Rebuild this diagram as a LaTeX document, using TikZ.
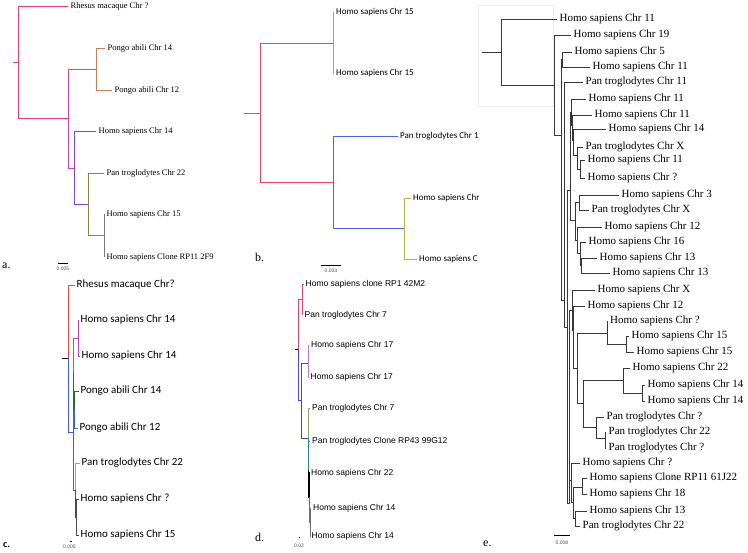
\documentclass[tikz,border=0pt]{standalone}
\usepackage{fontspec}
\setmainfont{Liberation Serif}
\newfontfamily\carlito{Carlito}
\newfontfamily\arialsans{Liberation Sans}
\usepackage{tikz}
\usetikzlibrary{calc}
\usepackage{xcolor}

\definecolor{apink}{RGB}{230,62,120}
\definecolor{amag}{RGB}{200,70,185}
\definecolor{aorg}{RGB}{205,125,90}
\definecolor{apur}{RGB}{135,70,205}
\definecolor{aoli}{RGB}{135,135,60}
\definecolor{agry}{RGB}{120,120,120}
\definecolor{bred}{RGB}{232,72,100}
\definecolor{bvio}{RGB}{222,112,222}
\definecolor{bblu}{RGB}{78,98,228}
\definecolor{bolv}{RGB}{190,178,70}
\definecolor{cred}{RGB}{238,74,74}
\definecolor{cblu}{RGB}{62,92,228}
\definecolor{cmag}{RGB}{180,70,200}
\definecolor{cgrn}{RGB}{30,110,55}
\definecolor{colv}{RGB}{165,165,125}
\definecolor{cdrk}{RGB}{75,75,75}
\definecolor{dred}{RGB}{222,70,112}
\definecolor{dblu}{RGB}{62,72,222}
\definecolor{dvio}{RGB}{188,122,210}
\definecolor{dolv}{RGB}{150,160,110}
\definecolor{dtea}{RGB}{40,140,140}
\definecolor{dgry}{RGB}{110,110,110}
\definecolor{ebk}{RGB}{55,55,55}

\newcommand{\sizeA}{\fontsize{8.5}{10}\selectfont}
\newcommand{\sizeB}{\carlito\fontsize{9}{11}\selectfont}
\newcommand{\sizeC}{\carlito\fontsize{11}{13}\selectfont}
\newcommand{\sizeD}{\arialsans\fontsize{8.5}{10}\selectfont}
\newcommand{\sizeE}{\fontsize{11}{13}\selectfont}
\newcommand{\sizeT}{\fontsize{12}{14}\selectfont}
\newcommand{\sizeS}{\arialsans\fontsize{5}{6}\selectfont}

\begin{document}
\begin{tikzpicture}[x=1pt,y=-1pt,
  br/.style={line width=0.9pt},
  ebr/.style={line width=0.9pt,ebk},
  lfa/.style={anchor=west,inner sep=0pt,inner xsep=2.5pt,font=\sizeA},
  lfb/.style={anchor=west,inner sep=0pt,inner xsep=2pt,font=\sizeB},
  lfc/.style={anchor=west,inner sep=0pt,inner xsep=2pt,font=\sizeC},
  lfd/.style={anchor=west,inner sep=0pt,inner xsep=2pt,font=\sizeD},
  lfe/.style={anchor=west,inner sep=0pt,inner xsep=2.5pt,font=\sizeE},
  tag/.style={anchor=west,inner sep=0pt,font=\sizeT},
  scl/.style={inner sep=0pt,font=\sizeS,black!70}]
  \fill[white] (0,0) rectangle (748,553);
  \useasboundingbox (0,0) rectangle (748,553);

  % 系統樹 a
  \coordinate (ar) at (13,62);
  \coordinate (a0) at (18,62);
  \coordinate (a1) at (68,118);
  \coordinate (ap) at (96,69);
  \coordinate (a2) at (74,168);
  \coordinate (a3) at (88,204);
  \coordinate (a4) at (104,235);
  \node[lfa] (arhe) at (68,6) {Rhesus macaque Chr ?};
  \node[lfa] (apab14) at (105,48) {Pongo abili Chr 14};
  \node[lfa] (apab12) at (112,90) {Pongo abili Chr 12};
  \node[lfa] (ahsa14) at (96,131) {Homo sapiens Chr 14};
  \node[lfa] (aptr22) at (104,173) {Pan troglodytes Chr 22};
  \node[lfa] (ahsa15) at (104,214) {Homo sapiens Chr 15};
  \node[lfa] (ahsrp) at (104,257) {Homo sapiens Clone RP11 2F9};
  \draw[br,apink] (ar) -- (a0) |- (arhe.west) (a0) |- (a1);
  \draw[br,amag] (a1) |- (ap) (a1) |- (a2);
  \draw[br,aorg] (ap) |- (apab14.west) (ap) |- (apab12.west);
  \draw[br,apur] (a2) |- (ahsa14.west) (a2) |- (a3);
  \draw[br,aoli] (a3) |- (aptr22.west) (a3) |- (a4);
  \draw[br,agry] (a4) |- (ahsa15.west) (a4) |- (ahsrp.west);
  \node[tag] (ta) at (2,266) {a.};
  \node[scl] (sa) at (63,269) {0.005};
  \draw[thin] (58,263) -- (68,263);

  % 系統樹 b
  \coordinate (br0) at (244,113);
  \coordinate (b0) at (260,113);
  \coordinate (b1) at (333,43);
  \coordinate (b2) at (333,182);
  \coordinate (b3) at (404,228);
  \begin{scope}
    \clip (240,0) rectangle (478,290);
    \node[lfb] (bhs1) at (334,12) {Homo sapiens Chr 15};
    \node[lfb] (bhs2) at (334,73) {Homo sapiens Chr 15};
    \node[lfb] (bptr) at (398,136) {Pan troglodytes Chr 1};
    \node[lfb] (bhs3) at (411,198) {Homo sapiens Chr};
    \node[lfb] (bhs4) at (417,259) {Homo sapiens C};
  \end{scope}
  \draw[br,bred] (br0) -- (b0) |- (b1) (b0) |- (b2);
  \draw[br,bvio] (b1) |- (bhs1.west) (b1) |- (bhs2.west);
  \draw[br,bblu] (b2) |- (bptr.west) (b2) |- (b3);
  \draw[br,bolv] (b3) |- (bhs3.west) (b3) |- (bhs4.west);
  \node[tag] (tb) at (255,257) {b.};
  \node[scl] (sb) at (331,271) {0.003};
  \draw[thin] (321,265) -- (341,265);

  % 系統樹 c
  \coordinate (cr) at (62,358);
  \coordinate (c0) at (68.3,358);
  \coordinate (c1) at (73.3,432);
  \coordinate (c2) at (73.8,373);
  \coordinate (c3) at (78.3,338);
  \coordinate (c4) at (74.6,409);
  \coordinate (c5) at (75.3,490);
  \coordinate (c6) at (76.5,517);
  \node[lfc] (crhe) at (74.5,285) {Rhesus macaque Chr?};
  \node[lfc] (chs1) at (78.5,320) {Homo sapiens Chr 14};
  \node[lfc] (chs2) at (79.5,356) {Homo sapiens Chr 14};
  \node[lfc] (cpab14) at (78.5,391) {Pongo abili Chr 14};
  \node[lfc] (cpab12) at (77.5,428) {Pongo abili Chr 12};
  \node[lfc] (cptr22) at (79.5,463) {Pan troglodytes Chr 22};
  \node[lfc] (chsq) at (78.5,499) {Homo sapiens Chr ?};
  \node[lfc] (chs15) at (78.5,535) {Homo sapiens Chr 15};
  \draw[br,black] (cr) -- (c0);
  \draw[br,cred] (c0) |- (crhe.west);
  \draw[br,cblu] (c0) |- (c1) (c1) |- (c2) (c1) |- (c5);
  \draw[br,cmag] (c2) |- (c3) (c3) |- (chs1.west) (c3) |- (chs2.west);
  \draw[br,cgrn] (c2) |- (c4) (c4) |- (cpab14.west);
  \draw[br,cblu] (c4) |- (cpab12.west);
  \draw[br,colv] (c5) |- (cptr22.west);
  \draw[br,cdrk] (c5) |- (c6) (c6) |- (chsq.west) (c6) |- (chs15.west);
  \node[tag,font=\carlito\bfseries\fontsize{10}{12}\selectfont] (tc) at (3,545) {c.};
  \node[scl] (sc) at (69.5,546.5) {0.005};
  \draw[thin] (70,541) -- (71.5,541);

  % 系統樹 d
  \coordinate (dr) at (295,349);
  \coordinate (d0) at (298,349);
  \coordinate (d1) at (302.5,299);
  \coordinate (d2) at (301,400);
  \coordinate (d3) at (308,363);
  \coordinate (d4) at (308,438);
  \coordinate (d5) at (308.6,470);
  \coordinate (d6) at (309.4,497);
  \coordinate (d7) at (310.2,522);
  \node[lfd] (dhrp) at (303.5,284) {Homo sapiens clone RP1 42M2};
  \node[lfd] (dpt7) at (302.5,315) {Pan troglodytes Chr 7};
  \node[lfd] (dh17a) at (309,345) {Homo sapiens Chr 17};
  \node[lfd] (dh17b) at (308.5,377) {Homo sapiens Chr 17};
  \node[lfd] (dpt7b) at (310,408) {Pan troglodytes Chr 7};
  \node[lfd] (dptrp) at (310,441) {Pan troglodytes Clone RP43 99G12};
  \node[lfd] (dh22) at (309,473) {Homo sapiens Chr 22};
  \node[lfd] (dh14a) at (311,508) {Homo sapiens Chr 14};
  \node[lfd] (dh14b) at (309.5,536) {Homo sapiens Chr 14};
  \draw[br,black] (dr) -- (d0);
  \draw[br,dred] (d0) |- (d1) (d1) |- (dhrp.west) (d1) |- (dpt7.west);
  \draw[br,dblu] (d0) |- (d2) (d2) |- (d3) (d2) |- (d4);
  \draw[br,dvio] (d3) |- (dh17a.west) (d3) |- (dh17b.west);
  \draw[br,dolv] (d4) |- (dpt7b.west);
  \draw[br,dtea] (d4) |- (d5) (d5) |- (dptrp.west);
  \draw[br,black,line width=1.3pt] (d5) |- (d6) (d6) |- (dh22.west);
  \draw[br,dgry] (d6) |- (d7) (d7) |- (dh14a.west) (d7) |- (dh14b.west);
  \node[tag] (td) at (255,537) {d.};
  \node[scl] (sd) at (299,546) {0.02};
  \draw[thin] (298.5,537) -- (300,537);

  % 系統樹 e
  \draw[black!7] (478,5) rectangle (553,106);
  \coordinate (er) at (482,52);
  \coordinate (e0) at (501,52);
  \coordinate (ei1) at (554,85);
  \coordinate (ei2) at (561,135);
  \coordinate (ei3) at (562,59.5);
  \coordinate (ei4) at (564,300);
  \coordinate (ei5) at (567,327);
  \coordinate (ei6) at (570,190);
  \coordinate (ei7) at (571,112);
  \coordinate (ei8) at (572,125);
  \coordinate (ei9) at (573,140);
  \coordinate (ei10) at (577,155);
  \coordinate (ei11) at (580.5,169);
  \coordinate (ei12) at (575.5,220);
  \coordinate (ei13) at (579,202.5);
  \coordinate (ei14) at (577,240);
  \coordinate (ei15) at (580,253);
  \coordinate (ei16) at (581.5,265.5);
  \coordinate (ei17) at (569.5,503);
  \coordinate (ei18) at (572,310);
  \coordinate (ei19) at (573.5,330);
  \coordinate (ei20) at (577.7,368);
  \coordinate (ei21) at (607,333);
  \coordinate (ei22) at (626.5,344);
  \coordinate (ei23) at (583,403);
  \coordinate (ei24) at (623,380);
  \coordinate (ei25) at (642,393);
  \coordinate (ei26) at (596,427);
  \coordinate (ei27) at (605,438);
  \coordinate (ei28) at (571.5,480);
  \coordinate (ei29) at (573,502);
  \coordinate (ei30) at (582.7,487);
  \coordinate (ei31) at (575,518.5);
  \node[lfe] (e1) at (557,19) {Homo sapiens Chr 11};
  \node[lfe] (e2) at (571,35) {Homo sapiens Chr 19};
  \node[lfe] (e3) at (572,52) {Homo sapiens Chr 5};
  \node[lfe] (e4) at (590,67) {Homo sapiens Chr 11};
  \node[lfe] (e5) at (583,82) {Pan troglodytes Chr 11};
  \node[lfe] (e6) at (586,99) {Homo sapiens Chr 11};
  \node[lfe] (e7) at (592,115) {Homo sapiens Chr 11};
  \node[lfe] (e8) at (606,129) {Homo sapiens Chr 14};
  \node[lfe] (e9) at (583,147) {Pan troglodytes Chr X};
  \node[lfe] (e10) at (585,160) {Homo sapiens Chr 11};
  \node[lfe] (e11) at (585,178) {Homo sapiens Chr ?};
  \node[lfe] (e12) at (619,195) {Homo sapiens Chr 3};
  \node[lfe] (e13) at (589,210) {Pan troglodytes Chr X};
  \node[lfe] (e14) at (602,227) {Homo sapiens Chr 12};
  \node[lfe] (e15) at (586,242) {Homo sapiens Chr 16};
  \node[lfe] (e16) at (597,258) {Homo sapiens Chr 13};
  \node[lfe] (e17) at (610,273) {Homo sapiens Chr 13};
  \node[lfe] (e18) at (595,290) {Homo sapiens Chr X};
  \node[lfe] (e19) at (585,306) {Homo sapiens Chr 12};
  \node[lfe] (e20) at (607.5,321) {Homo sapiens Chr ?};
  \node[lfe] (e21) at (629,336) {Homo sapiens Chr 15};
  \node[lfe] (e22) at (634,352) {Homo sapiens Chr 15};
  \node[lfe] (e23) at (630,368) {Homo sapiens Chr 22};
  \node[lfe] (e24) at (645,385) {Homo sapiens Chr 14};
  \node[lfe] (e25) at (645,401) {Homo sapiens Chr 14};
  \node[lfe] (e26) at (604,417) {Pan troglodytes Chr ?};
  \node[lfe] (e27) at (606,432) {Pan troglodytes Chr 22};
  \node[lfe] (e28) at (606,448) {Pan troglodytes Chr ?};
  \node[lfe] (e29) at (580,463) {Homo sapiens Chr ?};
  \node[lfe] (e30) at (587,478) {Homo sapiens Clone RP11 61J22};
  \node[lfe] (e31) at (587,494) {Homo sapiens Chr 18};
  \node[lfe] (e32) at (587,511) {Homo sapiens Chr 13};
  \node[lfe] (e33) at (580,526) {Pan troglodytes Chr 22};
  \draw[ebr] (er) -- (e0) |- (e1.west) (e0) |- (ei1);
  \draw[ebr] (ei1) |- (e2.west) (ei1) |- (ei2);
  \draw[ebr] (ei2) |- (ei3) (ei2) |- (ei4);
  \draw[ebr] (ei3) |- (e3.west) (ei3) |- (e4.west);
  \draw[ebr] (ei4) |- (e5.west) (ei4) |- (ei5);
  \draw[ebr] (ei5) |- (ei6) (ei5) |- (ei17);
  \draw[ebr] (ei6) |- (ei7) (ei6) |- (ei12);
  \draw[ebr] (ei7) |- (e6.west) (ei7) |- (ei8);
  \draw[ebr] (ei8) |- (e7.west) (ei8) |- (ei9);
  \draw[ebr] (ei9) |- (e8.west) (ei9) |- (ei10);
  \draw[ebr] (ei10) |- (e9.west) (ei10) |- (ei11);
  \draw[ebr] (ei11) |- (e10.west) (ei11) |- (e11.west);
  \draw[ebr] (ei12) |- (ei13) (ei12) |- (ei14);
  \draw[ebr] (ei13) |- (e12.west) (ei13) |- (e13.west);
  \draw[ebr] (ei14) |- (e14.west) (ei14) |- (ei15);
  \draw[ebr] (ei15) |- (e15.west) (ei15) |- (ei16);
  \draw[ebr] (ei16) |- (e16.west) (ei16) |- (e17.west);
  \draw[ebr] (ei17) |- (ei18) (ei17) |- (ei28);
  \draw[ebr] (ei18) |- (e18.west) (ei18) |- (ei19);
  \draw[ebr] (ei19) |- (e19.west) (ei19) |- (ei20);
  \draw[ebr] (ei20) |- (ei21) (ei20) |- (ei23);
  \draw[ebr] (ei21) |- (e20.west) (ei21) |- (ei22);
  \draw[ebr] (ei22) |- (e21.west) (ei22) |- (e22.west);
  \draw[ebr] (ei23) |- (ei24) (ei23) |- (ei26);
  \draw[ebr] (ei24) |- (e23.west) (ei24) |- (ei25);
  \draw[ebr] (ei25) |- (e24.west) (ei25) |- (e25.west);
  \draw[ebr] (ei26) |- (e26.west) (ei26) |- (ei27);
  \draw[ebr] (ei27) |- (e27.west) (ei27) |- (e28.west);
  \draw[ebr] (ei28) |- (e29.west) (ei28) |- (ei29);
  \draw[ebr] (ei29) |- (ei30) (ei29) |- (ei31);
  \draw[ebr] (ei30) |- (e30.west) (ei30) |- (e31.west);
  \draw[ebr] (ei31) |- (e32.west) (ei31) |- (e33.west);
  \node[tag] (te) at (483,544) {e.};
  \node[scl] (se) at (562,543) {0.008};
  \draw[thin] (554,535) -- (570,535);
\end{tikzpicture}
\end{document}
